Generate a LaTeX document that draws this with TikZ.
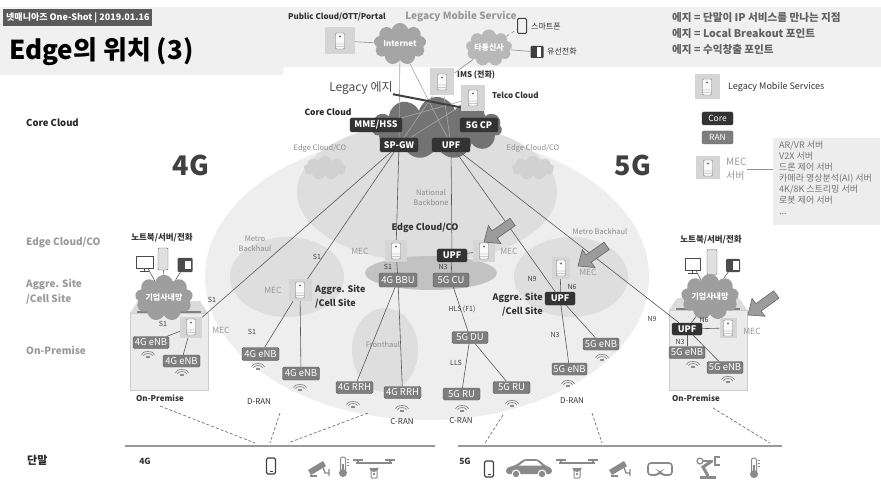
\documentclass[tikz,border=0pt]{standalone}
\usepackage{fontspec}
\setmainfont{Noto Sans CJK KR}
\usetikzlibrary{shapes.symbols}

\definecolor{bandc}{HTML}{F0F0F0}
\definecolor{tagc}{HTML}{5A5A5A}
\definecolor{corec}{HTML}{333333}
\definecolor{ranc}{HTML}{7E7E7E}
\definecolor{srvbg}{HTML}{D5D5D5}
\definecolor{srvfg}{HTML}{767676}
\definecolor{farc}{HTML}{EEEEEE}
\definecolor{midc}{HTML}{DEDEDE}
\definecolor{edgec}{HTML}{C2C2C2}
\definecolor{linec}{HTML}{595959}
\definecolor{softc}{HTML}{9A9A9A}
\definecolor{iconc}{HTML}{8A8A8A}
\definecolor{cloudc}{HTML}{A5A5A5}
\definecolor{corecl}{HTML}{737373}
\definecolor{arrc}{HTML}{9C9C9C}
\definecolor{boxc}{HTML}{EDEDED}
\definecolor{bldc}{HTML}{EBEBEB}

\pgfdeclarelayer{back}
\pgfdeclarelayer{wires}
\pgfsetlayers{back,wires,main}

\tikzset{
  corebox/.style={fill=corec, draw=black!80, rounded corners=1.5pt, text=white,
    font=\fontsize{9}{9}\selectfont\bfseries, inner sep=0pt, minimum height=14pt},
  ranbox/.style={fill=ranc, draw=ranc!70!black, rounded corners=1.5pt, text=white,
    font=\fontsize{9.5}{9.5}\selectfont, inner sep=0pt, minimum width=37pt, minimum height=13pt},
  srv/.style={fill=srvbg, inner sep=0pt, minimum width=22pt, minimum height=22pt,
    path picture={
      \draw[srvfg, fill=white!85!srvbg, rounded corners=1pt, shift={(path picture bounding box.center)}]
        (-4.5,-8) rectangle (4.5,8) (-4.5,3) -- (4.5,3) (-4.5,5.5) -- (4.5,5.5);
      \fill[srvfg, shift={(path picture bounding box.center)}] (0,-4.5) circle (1.1);
    }},
  puff/.style={cloud, cloud puffs=9, aspect=1.5, inner sep=0pt, text=white,
    font=\fontsize{8}{8}\selectfont\bfseries},
  link/.style={draw=linec, line width=0.6pt},
  uplink/.style={draw=black!45, line width=0.6pt},
  dashlink/.style={draw=black!55, line width=0.7pt, dash pattern=on 3pt off 2pt},
  ifc/.style={font=\fontsize{7}{7}\selectfont, text=black!75, inner sep=0pt},
  zone/.style={font=\fontsize{7.5}{10}\selectfont, text=black!45, align=center, inner sep=0pt},
  side/.style={font=\fontsize{10}{15}\selectfont\bfseries, text=black!40, anchor=west, align=left, inner sep=0pt},
  site/.style={font=\fontsize{9}{14}\selectfont\bfseries, text=black!80, align=left, inner sep=0pt},
  meclbl/.style={font=\fontsize{8.5}{9}\selectfont, text=black!40, inner sep=0pt},
  ranlbl/.style={font=\fontsize{8}{9}\selectfont\bfseries, text=black!80, inner sep=0pt},
  small/.style={font=\fontsize{8}{8}\selectfont, text=black!80, inner sep=0pt},
  defl/.style={font=\fontsize{10.6}{11}\selectfont\bfseries, text=black!62, anchor=west, inner sep=0pt},
  wave/.pic={
    \fill[iconc] (0,0) ellipse (2.2 and 1.1);
    \draw[iconc, line width=0.7pt] (-4.5,-1.2) arc (180:360:4.5 and 2.3);
    \draw[iconc, line width=0.7pt] (-6.5,-2.2) arc (180:360:6.5 and 3.3);
  },
  pointer/.pic={
    \filldraw[fill=arrc, draw=black!60, line width=0.6pt]
      (0,0) -- (13,-11) -- (13,-4.5) -- (35,-4.5) -- (35,4.5) -- (13,4.5) -- (13,11) -- cycle;
  },
  handset/.pic={
    \draw[black!75, line width=1.1pt, rounded corners=1.5pt] (-4.5,-8) rectangle (4.5,8);
    \draw[black!75, line width=0.8pt] (-1.5,5.5) -- (1.5,5.5);
  },
  camera/.pic={
    \fill[iconc] (-10,3) -- (5,-6) -- (8,-1) -- (-7,8) -- cycle;
    \draw[iconc, line width=1.3pt] (5,0) -- (7,6) -- (11,6) (11,2) -- (11,9);
    \draw[iconc, line width=1.2pt] (-8,9) -- (-1,9);
  },
  thermo/.pic={
    \draw[iconc, line width=1pt, rounded corners=2pt] (-2.5,-10) rectangle (2.5,5);
    \fill[iconc] (0,6) circle (4);
    \fill[iconc] (-1,-3) rectangle (1,5);
    \draw[iconc, line width=0.8pt] (4,-8) -- (6,-8) (4,-5) -- (6,-5) (4,-2) -- (6,-2);
  },
  drone/.pic={
    \draw[iconc, line width=1.2pt] (-18,-3) -- (18,-3) (-16,-3) -- (-16,-6) (16,-3) -- (16,-6);
    \draw[iconc, line width=1.4pt] (-21,-6) -- (-11,-6) (11,-6) -- (21,-6);
    \fill[iconc] (-5,1) arc (180:0:5) -- (5,2) -- (-5,2) -- cycle;
    \draw[iconc, line width=1pt, rounded corners=1pt] (-3,4) rectangle (3,12);
    \fill[iconc] (0,8) circle (1.3);
  },
  car/.pic={
    \fill[iconc, rounded corners=3pt] (-23,6) -- (-23,0) -- (-13,-3) -- (-5,-9) -- (9,-9) -- (17,-2) -- (23,0) -- (23,6) -- cycle;
    \fill[white] (-4,-7) -- (8,-7) -- (13,-2.5) -- (-10,-2.5) -- cycle;
    \fill[white] (-13,6) circle (4.5) (13,6) circle (4.5);
    \fill[iconc] (-13,6) circle (3.2) (13,6) circle (3.2);
  },
  goggles/.pic={
    \draw[iconc, line width=1.6pt, rounded corners=3pt]
      (-12,-6) -- (12,-6) -- (12,6) -- (3,6) -- (0,3) -- (-3,6) -- (-12,6) -- cycle;
  },
  robot/.pic={
    \fill[iconc] (-9,9) rectangle (7,12);
    \draw[iconc, line width=3pt] (-1,9) -- (-6,0) -- (3,-6);
    \draw[iconc, line width=1.2pt] (-9,-6) circle (3);
    \draw[iconc, line width=1.5pt] (-6,-6) -- (4,-6);
    \draw[iconc, line width=1.5pt] (11,-10) -- (6,-10) -- (6,-2) -- (11,-2);
  }
}

\begin{document}
\begin{tikzpicture}[x=1pt,y=-1pt]
\useasboundingbox (0,0) rectangle (881,481);

\begin{pgfonlayer}{back}
\fill[white] (0,0) rectangle (881,481);
\fill[bandc] (0,7) rectangle (881,67);
\fill[bandc] (0,7) rectangle (283,75);

\fill[farc] (427,277) ellipse (222 and 143);
\fill[midc] (427,192) ellipse (130 and 70);
\fill[midc] (287,277) ellipse (57 and 40);
\fill[midc] (571,277) ellipse (57 and 40);
\fill[midc] (385,350) ellipse (33 and 42);
\fill[edgec] (431,273) ellipse (66 and 17);

\node[cloud, cloud puffs=11, aspect=2, fill=corecl, minimum width=130pt, minimum height=62pt] (core) at (437,128) {};
\node[cloud, cloud puffs=9, aspect=1.6, fill=black!18, minimum width=42pt, minimum height=24pt] (edgeL) at (325,168) {};
\node[cloud, cloud puffs=9, aspect=1.6, fill=black!18, minimum width=42pt, minimum height=24pt] (edgeR) at (533,168) {};

\filldraw[fill=bldc, draw=black!20] (130,313) rectangle (208,390);
\fill[black!14] (130,313) -- (138,301) -- (200,301) -- (208,313) -- cycle;
\draw[black!50, line width=1.5pt] (137,312) -- (201,312);
\filldraw[fill=bldc, draw=black!20] (669,310) rectangle (747,390);
\fill[black!14] (669,310) -- (677,298) -- (739,298) -- (747,310) -- cycle;
\draw[black!50, line width=1.5pt] (676,309) -- (740,309);
\end{pgfonlayer}

% header
\node[fill=tagc, text=white, font=\fontsize{9}{9}\selectfont\bfseries, inner xsep=3pt, minimum height=17pt, anchor=west] (tag) at (3,18) {넷매니아즈 One-Shot | 2019.01.16};
\node[anchor=west, font=\fontsize{26}{26}\selectfont\bfseries, inner sep=0pt] (title) at (9,52) {Edge의 위치 (3)};
\node[defl] (def1) at (672,18) {에지 = 단말이 IP 서비스를 만나는 지점};
\node[defl] (def2) at (672,34) {에지 = Local Breakout 포인트};
\node[defl] (def3) at (672,50) {에지 = 수익창출 포인트};

% top services
\node[font=\fontsize{8}{8}\selectfont\bfseries, text=black!80] (pubtxt) at (337,17) {Public Cloud/OTT/Portal};
\node[srv, minimum width=30pt, minimum height=27pt] (pub) at (340,41) {};
\node[puff, fill=cloudc, minimum width=46pt, minimum height=34pt] (inet) at (400,44) {Internet};
\node[font=\fontsize{10}{10}\selectfont\bfseries, text=black!40] (legsvc) at (461,17) {Legacy Mobile Service};
\node[puff, fill=black!28, minimum width=44pt, minimum height=30pt] (other) at (489,48) {타통신사};
\node[draw=black!75, line width=1pt, rounded corners=1.2pt, minimum width=9pt, minimum height=15pt, inner sep=0pt] (smart) at (522,26) {};
\node[small, anchor=west] (smarttxt) at (531,27) {스마트폰};
\node[fill=black!75, rounded corners=1pt, minimum width=13pt, minimum height=12pt, inner sep=0pt] (wired) at (537,52) {};
\fill[white] (537,47) rectangle (541,57);
\node[small, anchor=west] (wiredtxt) at (547,52) {유선전화};
\node[srv, minimum width=24pt, minimum height=27pt] (ims) at (442,82) {};
\node[small, font=\fontsize{8}{8}\selectfont\bfseries, anchor=west] (imstxt) at (457,75) {IMS (전화)};
\node[srv, minimum width=24pt, minimum height=26pt] (telco) at (473,98) {};
\node[small, font=\fontsize{8}{8}\selectfont\bfseries, anchor=west] (telcotxt) at (492,95) {Telco Cloud};
\node[font=\fontsize{12}{12}\selectfont, text=black!70, inner sep=0pt] (legedge) at (361,88) {Legacy 에지};
\coordinate (legtip) at (464,108);

% core cloud
\node[font=\fontsize{8.5}{9}\selectfont\bfseries, text=black!85] (coretxt) at (328,112) {Core Cloud};
\node[corebox, minimum width=52pt] (mme) at (376,125) {MME/HSS};
\node[corebox, minimum width=38pt] (cp) at (479,125) {5G CP};
\node[corebox, minimum width=38pt] (spgw) at (399,145) {SP-GW};
\node[corebox, minimum width=38pt] (upf) at (451,145) {UPF};

% left column
\node[font=\fontsize{9.5}{10}\selectfont\bfseries, text=black!85, anchor=west, inner sep=0pt] (lcore) at (26,123) {Core Cloud};
\node[side] (ledge) at (26,243) {Edge Cloud/CO};
\node[side] (laggr) at (26,292) {Aggre. Site\\/Cell Site};
\node[side] (lprem) at (26,350) {On-Premise};
\node[font=\fontsize{11}{11}\selectfont\bfseries, text=black!85, anchor=west, inner sep=0pt] (lterm) at (27,460) {단말};
\node[font=\fontsize{27}{27}\selectfont\bfseries, text=black!75] (big4g) at (191,165) {4G};
\node[font=\fontsize{27}{27}\selectfont\bfseries, text=black!75] (big5g) at (633,165) {5G};

% zone labels
\node[zone] (zedgeL) at (320,148) {Edge Cloud/CO};
\node[zone] (zedgeR) at (533,148) {Edge Cloud/CO};
\node[zone] (zbone) at (431,198) {National\\Backbone};
\node[zone] (zmetroL) at (255,244) {Metro\\Backhaul};
\node[zone] (zmetroR) at (600,232) {Metro Backhaul};
\node[zone] (zfront) at (383,345) {Fronthaul};
\node[site] (zedgeco) at (425,228) {Edge Cloud/CO};

% edge cloud / CO
\node[srv] (mecE1) at (396,251) {};
\node[meclbl] (mecE1txt) at (360,251) {MEC};
\node[corebox, minimum width=30pt, minimum height=13pt] (upfE) at (452,255.5) {UPF};
\node[srv] (mecE2) at (484,251) {};
\node[meclbl] (mecE2txt) at (509,251) {MEC};
\node[ranbox, minimum width=38pt, minimum height=14pt] (bbu) at (398,280) {4G BBU};
\node[ranbox, minimum width=36pt, minimum height=14pt] (cu) at (451,280) {5G CU};
\node[ranbox, minimum width=36pt, minimum height=12pt] (du) at (470,337.5) {5G DU};
\node[ranbox, minimum height=12pt] (ru1) at (461.5,394) {5G RU};
\node[ranbox, minimum height=12pt] (ru2) at (511.5,387.5) {5G RU};
\node[ranbox, minimum height=12pt] (rrh1) at (354.5,387.5) {4G RRH};
\node[ranbox, minimum height=12pt] (rrh2) at (402.5,392.5) {4G RRH};

% 4G aggregation site
\node[srv, minimum width=23pt] (mec4ag) at (300,290) {};
\node[meclbl] (mec4agtxt) at (273,290) {MEC};
\node[site, anchor=west] (site4) at (315,297) {Aggre. Site\\/Cell Site};
\node[ranbox] (enb4a1) at (260.5,354) {4G eNB};
\node[ranbox] (enb4a2) at (301,373.5) {4G eNB};

% 4G on-premise
\node[font=\fontsize{8.5}{9}\selectfont\bfseries, text=black!80] (dev4txt) at (162,238) {노트북/서버/전화};
\node[draw=black!70, line width=0.9pt, minimum width=17pt, minimum height=12pt, inner sep=0pt] (pc4) at (144.5,262) {};
\draw[black!70, line width=0.9pt] (144.5,268) -- (144.5,271) (140,271.5) -- (149,271.5);
\node[draw=black!60, fill=black!12, rounded corners=1pt, minimum width=10pt, minimum height=22pt, inner sep=0pt] (tw4) at (163,259) {};
\node[fill=black!70, rounded corners=1pt, minimum width=15pt, minimum height=14pt, inner sep=0pt] (tel4) at (185,265) {};
\fill[white] (185,261) rectangle (191,269);
\node[puff, fill=black!38, minimum width=56pt, minimum height=24pt] (lan4) at (164,298) {기업사내망};
\node[srv, minimum width=22pt, minimum height=21pt] (mec4op) at (191,327) {};
\node[meclbl] (mec4optxt) at (221,330) {MEC};
\node[ranbox, minimum width=36pt, minimum height=12pt] (enb4o1) at (151,342.5) {4G eNB};
\node[ranbox, minimum width=37pt, minimum height=12pt] (enb4o2) at (181.5,361) {4G eNB};

% 5G aggregation site
\node[srv, minimum width=18pt] (mec5ag) at (561,268) {};
\node[meclbl] (mec5agtxt) at (588,272) {MEC};
\node[corebox, minimum width=30pt, minimum height=13pt] (upf5ag) at (560,298.5) {UPF};
\node[site, anchor=east, align=right] (site5) at (543,305) {Aggre. Site\\/Cell Site};
\node[ranbox, minimum width=35pt, minimum height=12pt] (enb5a1) at (569.5,369) {5G eNB};
\node[ranbox, minimum width=36pt, minimum height=12pt] (enb5a2) at (601,344) {5G eNB};

% 5G on-premise
\node[font=\fontsize{8.5}{9}\selectfont\bfseries, text=black!80] (dev5txt) at (711,240) {노트북/서버/전화};
\node[draw=black!70, line width=0.9pt, minimum width=15pt, minimum height=12pt, inner sep=0pt] (pc5) at (692.5,264) {};
\draw[black!70, line width=0.9pt] (692.5,270) -- (692.5,273) (688,273.5) -- (697,273.5);
\node[draw=black!60, fill=black!12, rounded corners=1pt, minimum width=10pt, minimum height=25pt, inner sep=0pt] (tw5) at (712,262) {};
\node[fill=black!70, rounded corners=1pt, minimum width=14pt, minimum height=13pt, inner sep=0pt] (tel5) at (733,265.5) {};
\fill[white] (733,261.5) rectangle (739,269.5);
\node[puff, fill=black!38, minimum width=46pt, minimum height=22pt] (lan5) at (710,297) {기업사내망};
\node[corebox, minimum width=30pt, minimum height=12pt] (upf5op) at (687,329) {UPF};
\node[srv, minimum width=17pt, minimum height=20pt] (mec5op) at (728,328) {};
\node[meclbl] (mec5optxt) at (752,331) {MEC};
\node[ranbox, minimum width=36pt, minimum height=12pt] (enb5o1) at (687,352.5) {5G eNB};
\node[ranbox, minimum width=36pt, minimum height=12pt] (enb5o2) at (725,367.5) {5G eNB};

% interface labels
\node[ifc] (s1a) at (388,267) {S1};
\node[ifc] (n3a) at (443,267) {N3};
\node[ifc] (s1b) at (317,257) {S1};
\node[ifc] (s1c) at (252,332) {S1};
\node[ifc] (s1d) at (212,300) {S1};
\node[ifc] (s1e) at (163,324) {S1};
\node[ifc] (hls) at (462,309) {HLS (F1)};
\node[ifc] (lls) at (456,363) {LLS};
\node[ifc] (n9a) at (532,279) {N9};
\node[ifc] (n6a) at (572,287) {N6};
\node[ifc] (n3b) at (555,335) {N3};
\node[ifc] (n9b) at (652,319) {N9};
\node[ifc] (n6b) at (704,320) {N6};
\node[ifc] (n3c) at (680,342) {N3};

% RAN site labels
\node[ranlbl] (op4) at (160,398) {On-Premise};
\node[ranlbl, font=\fontsize{8}{9}\selectfont] (dran4) at (259,402) {D-RAN};
\node[ranlbl, font=\fontsize{8}{9}\selectfont] (cran4) at (402,422) {C-RAN};
\node[ranlbl, font=\fontsize{8}{9}\selectfont] (cran5) at (461,421) {C-RAN};
\node[ranlbl, font=\fontsize{8}{9}\selectfont] (dran5) at (572,401) {D-RAN};
\node[ranlbl] (op5) at (696,398) {On-Premise};

% radio waves
\foreach \p in {(148,357),(182,375),(258,369),(300,390),(353,407),(402,411),(462,411),(512,406),(568,386),(602,360),(693,367),(728,382)}
  \pic at \p {wave};

% pointers
\pic[rotate=35] at (484,242) {pointer};
\pic[rotate=35] at (578,266) {pointer};
\pic[rotate=36] at (748,315) {pointer};

% legend
\node[srv, minimum width=25pt, minimum height=25pt] (lgsrv) at (707,87) {};
\node[small, font=\fontsize{9}{9}\selectfont, anchor=west] (lgsrvtxt) at (728,87) {Legacy Mobile Services};
\node[corebox, minimum width=31pt, minimum height=13pt, font=\fontsize{8.5}{9}\selectfont] (lgcore) at (717.5,118.5) {Core};
\node[ranbox, minimum width=31pt, font=\fontsize{8.5}{9}\selectfont] (lgran) at (717.5,137.5) {RAN};
\node[srv, minimum width=24pt, minimum height=23pt] (lgmec) at (708,168) {};
\node[anchor=west, text=black!40, font=\fontsize{10}{14}\selectfont, align=left, inner sep=0pt] (lgmectxt) at (726,169) {MEC\\서버};
\node[fill=boxc, anchor=north west, minimum width=107pt, minimum height=87pt, inner sep=0pt] (lglist) at (773,138) {};
\node[anchor=north west, align=left, text=black!55, font=\fontsize{9}{11}\selectfont, inner sep=0pt] (lglisttxt) at (779,141) {AR/VR 서버\\V2X 서버\\드론 제어 서버\\카메라 영상분석(AI) 서버\\4K/8K 스트리밍 서버\\로봇 제어 서버\\...};

% terminals
\node[font=\fontsize{8.5}{9}\selectfont\bfseries, text=black!80, inner sep=0pt] (t4g) at (145,461) {4G};
\node[font=\fontsize{8.5}{9}\selectfont\bfseries, text=black!80, inner sep=0pt] (t5g) at (465,461) {5G};
\coordinate (bar4a) at (125,446);
\coordinate (bar4b) at (435,446);
\coordinate (bar5a) at (458,446);
\coordinate (bar5b) at (782,446);
\draw[black!40, line width=1.6pt] (bar4a) -- (bar4b);
\draw[black!40, line width=1.6pt] (bar5a) -- (bar5b);
\pic at (271,466) {handset};
\pic at (318,467) {camera};
\pic at (343,467) {thermo};
\pic at (374,466) {drone};
\pic at (489,469) {handset};
\pic at (529,468) {car};
\pic at (577,466) {drone};
\pic at (619,467) {camera};
\pic at (660,469) {goggles};
\pic at (709,467) {robot};
\pic at (754,468) {thermo};

\coordinate (d1s) at (160,406);  \coordinate (d1e) at (255,443);
\coordinate (d2s) at (280,413);  \coordinate (d2e) at (270,443);
\coordinate (d3s) at (368,413);  \coordinate (d3e) at (288,443);
\coordinate (d4s) at (503,415);  \coordinate (d4e) at (485,443);
\coordinate (d5s) at (592,413);  \coordinate (d5e) at (602,443);
\coordinate (d6s) at (713,408);  \coordinate (d6e) at (770,443);

\begin{pgfonlayer}{wires}
\draw[uplink] (pub) -- (inet);
\draw[uplink] (other) -- (ims);
\draw[uplink, dashed] (other) -- (smart);
\draw[uplink] (other) -- (wired);
\draw[draw=black!35, line width=0.6pt] (inet) -- (spgw) (inet) -- (upf) (ims) -- (spgw) (ims) -- (upf)
  (telco) -- (spgw) (telco) -- (mme);
\draw[black!75, line width=2pt] (legedge) -- (legtip);

\draw[link] (spgw) -- (mec4op);
\draw[link] (spgw) -- (mec4ag);
\draw[link] (spgw) -- (mecE1);
\draw[link] (mecE1) -- (bbu);
\draw[link] (upf) -- (upfE);
\draw[link] (upf) -- (upf5ag);
\draw[link] (upf) -- (upf5op);
\draw[link] (upfE) -- (cu);
\draw[link] (upfE) -- (mecE2);
\draw[link] (cu) -- (du);
\draw[link] (du) -- (ru1);
\draw[link] (du) -- (ru2);
\draw[link] (bbu) -- (rrh1);
\draw[link] (bbu) -- (rrh2);
\draw[link] (mec4ag) -- (enb4a1);
\draw[link] (mec4ag) -- (enb4a2);
\draw[link] (mec4op) -- (enb4o1);
\draw[link] (mec4op) -- (enb4o2);
\draw[link] (upf5ag) -- (mec5ag);
\draw[link] (upf5ag) -- (enb5a1);
\draw[link] (upf5ag) -- (enb5a2);
\draw[link] (upf5op) -- (mec5op);
\draw[link] (upf5op) -- (lan5);
\draw[link] (upf5op) -- (enb5o1);
\draw[link] (upf5op) -- (enb5o2);
\draw[link] (pc4) -- (lan4);
\draw[link] (tw4) -- (lan4);
\draw[link] (tel4) -- (lan4);
\draw[link] (pc5) -- (lan5);
\draw[link] (tw5) -- (lan5);
\draw[link] (tel5) -- (lan5);
\draw[black!45, line width=0.6pt] (lgmectxt.east) -- (lglist.west |- lgmectxt.east);

\draw[dashlink] (d1s) -- (d1e);
\draw[dashlink] (d2s) -- (d2e);
\draw[dashlink] (d3s) -- (d3e);
\draw[dashlink] (d4s) -- (d4e);
\draw[dashlink] (d5s) -- (d5e);
\draw[dashlink] (d6s) -- (d6e);
\end{pgfonlayer}
\end{tikzpicture}
\end{document}
